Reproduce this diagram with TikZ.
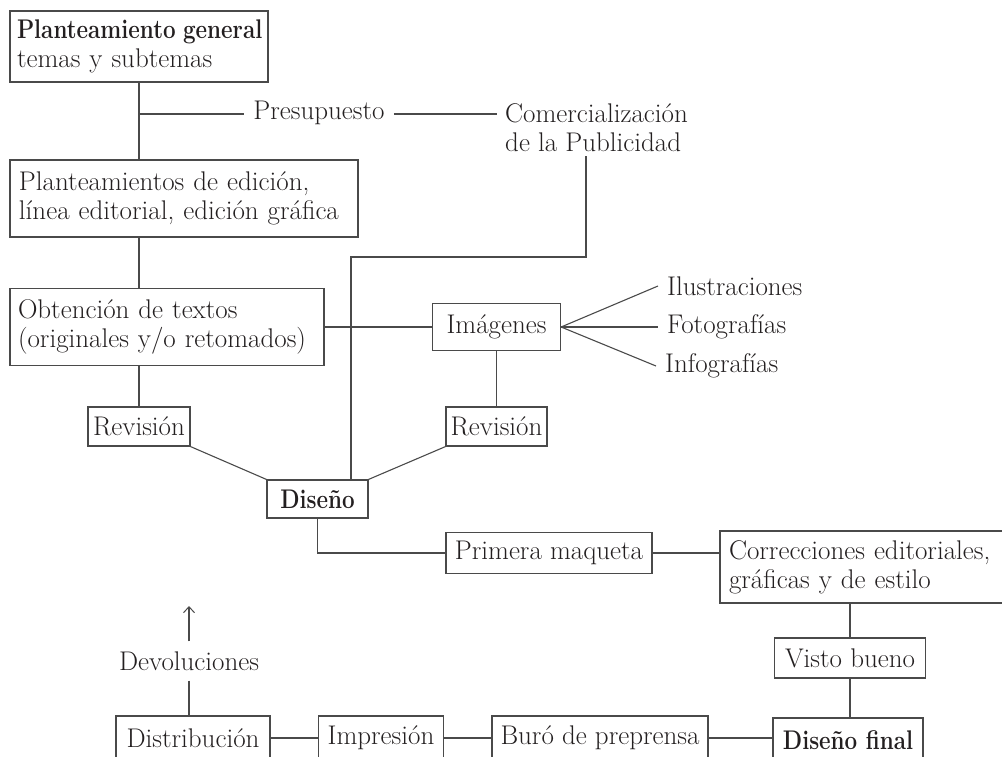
\documentclass[tikz,border=0pt]{standalone}
\usepackage{fontspec}
\usepackage{graphicx}
\usetikzlibrary{arrows.meta}
\newcommand{\bb}[1]{\scalebox{0.83}[1]{\bfseries #1}}
\definecolor{ink}{HTML}{231F20}
\definecolor{rule}{HTML}{4A4A4A}
\begin{document}
\begin{tikzpicture}[x=1pt,y=-1pt,
  every node/.style={font=\fontsize{27}{29}\selectfont, text=ink},
  box/.style={draw=rule, line width=1.2pt, inner xsep=9pt, inner ysep=0pt},
  tbox/.style={box, align=left},
  lbl/.style={inner xsep=9pt, inner ysep=0pt},
  ln/.style={draw=rule, line width=1.1pt},
  arr/.style={ln, -{Straight Barb[length=6pt,width=11pt,line width=1pt]}}]
\useasboundingbox (0,0) rectangle (1002,756);
\clip (0,0) rectangle (1002,756);
% boxes
\node[tbox, inner xsep=7pt, text width=244pt, minimum height=71pt] (pg) at (139,46.5) {\bb{Planteamiento general}\\temas y subtemas};
\node[tbox, text width=330pt, minimum height=77pt] (pe) at (184,198.5) {Planteamientos de edición,\\línea editorial, edición gráfica};
\node[tbox, inner xsep=8pt, text width=298pt, minimum height=77pt] (ot) at (167,327) {Obtención de textos\\(originales y/o retomados)};
\node[box, minimum width=128pt, minimum height=47pt] (im) at (496.5,327) {Imágenes};
\node[box, inner xsep=3pt, minimum width=102pt, minimum height=39pt] (r1) at (139,426.5) {Revisión};
\node[box, inner xsep=3pt, minimum width=101pt, minimum height=39pt] (r2) at (496.5,426.5) {Revisión};
\node[box, minimum width=101pt, minimum height=38pt] (di) at (317.5,499) {\bb{Diseño}};
\node[box, inner xsep=6pt, minimum width=206pt, minimum height=41pt] (pm) at (549,553) {Primera maqueta};
\node[tbox, text width=272pt, minimum height=72pt] (co) at (865,567) {Correcciones editoriales,\\gráficas y de estilo};
\node[box, minimum width=151pt, minimum height=40pt] (vb) at (850,658) {Visto bueno};
\node[box, minimum width=150pt, minimum height=44pt] (df) at (848,740) {\bb{Diseño final}};
\node[box, minimum width=154pt, minimum height=44pt] (ds) at (193,738) {Distribución};
\node[box, minimum width=124pt, minimum height=44pt] (ip) at (381,738) {Impresión};
\node[box, inner xsep=6pt, minimum width=216pt, minimum height=44pt] (bu) at (600,738) {Buró de preprensa};
% free labels
\node[lbl] (pres) at (319,113) {Presupuesto};
\node[lbl, align=left, inner xsep=8pt, anchor=north west] (com) at (497,103) {Comercialización\\de la Publicidad};
\node[lbl, anchor=west] (ilu) at (658,286) {Ilustraciones};
\node[lbl, anchor=west] (fot) at (658,327) {Fotografías};
\node[lbl, anchor=west] (inf) at (656,366) {Infografías};
\node[inner xsep=0pt, inner ysep=10pt] (dev) at (189,661) {Devoluciones};
% coordinates
\coordinate (bp) at (139,114);
\coordinate (cp) at (586,156);
\coordinate (cx) at (351,257);
\coordinate (tip) at (189,606);
% connectors
\draw[ln] (pg.south) -- (pg.south |- pe.north);
\draw[ln] (bp) -- (pres.west |- bp);
\draw[ln] (pres.east |- bp) -- (com.west |- bp);
\draw[ln] (pg.south |- pe.south) -- (pg.south |- ot.north);
\draw[ln] (ot.east) -- (ot.east -| im.west);
\draw[ln] (im.east) -- (ilu.west);
\draw[ln] (im.east) -- (fot.west);
\draw[ln] (im.east) -- (inf.west);
\draw[ln] (im.south) -- (r2.north);
\draw[ln] (r1.north |- ot.south) -- (r1.north);
\draw[ln] (r1.south east) -- (di.north west);
\draw[ln] (r2.south west) -- (di.north east);
\draw[ln] (cp) |- (cx) -- (cx |- di.north);
\draw[ln] (di.south) |- (pm.west);
\draw[ln] (pm.east) -- (pm.east -| co.west);
\draw[ln] (vb.north |- co.south) -- (vb.north);
\draw[ln] (vb.south) -- (vb.south |- df.north);
\draw[ln] (bu.east) -- (bu.east -| df.west);
\draw[ln] (ip.east) -- (bu.west);
\draw[ln] (ds.east) -- (ip.west);
\draw[ln] (dev.south) -- (dev.south |- ds.north);
\draw[arr] (dev.north) -- (tip);
\end{tikzpicture}
\end{document}
